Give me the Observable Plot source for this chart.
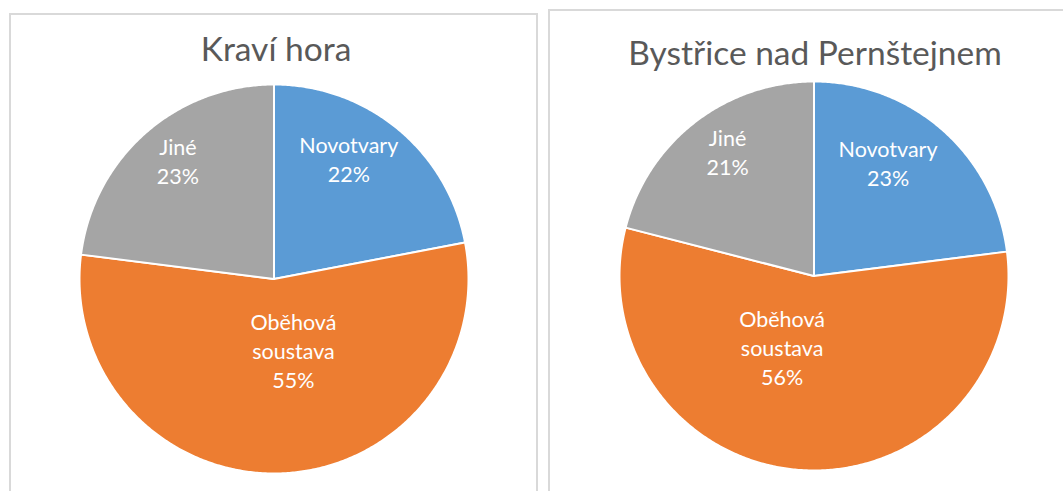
<!DOCTYPE html>
<html>
<head>
<meta charset="utf-8">
<script src="https://cdn.jsdelivr.net/npm/d3@7"></script>
<script src="https://cdn.jsdelivr.net/npm/@observablehq/plot@0.6"></script>
<style>
  html, body { margin: 0; padding: 0; background: #fff; }
  #root { position: relative; width: 1063px; height: 491px; overflow: hidden; font-family: Lato, "Open Sans", sans-serif; }
  .panel { position: absolute; border: 2px solid #d9d9d9; box-sizing: border-box; background: #fff; }
  .title { position: absolute; transform: translateX(-50%); white-space: nowrap; color: #595959; font-size: 33.5px; line-height: 1; }
  .pie { position: absolute; }
</style>
</head>
<body>
<div id="root"></div>
<script>
// ---- data ----
const categories = ["Novotvary", "Oběhová soustava", "Jiné"];
const labelText = ["Novotvary", "Oběhová\nsoustava", "Jiné"];
const kraviHora = [22, 55, 23];
const bystrice = [23, 56, 21];
const titles = ["Kraví hora", "Bystřice nad Pernštejnem"];
const colors = ["#5B9BD5", "#ED7D31", "#A5A5A5"];

// ---- layout ----
const layout = [
  { panel: {left: 9, top: 13, width: 529, height: 500}, title: {cx: 276, top: 32},
    pie: {left: 79, top: 84, size: 389},
    nudge: [[-12, -16], [17, -7], [-6, -17]] },
  { panel: {left: 548, top: 9, width: 530, height: 500}, title: {cx: 815, top: 36},
    pie: {left: 619, top: 81, size: 389},
    nudge: [[-16, -12], [-27, -7], [-3, -17]] }
];
const labelRadius = v => (v > 50 ? 0.4 : 0.7);

const root = document.getElementById("root");

function pieChart(values, L) {
  const total = d3.sum(values);
  const arcs = d3.pie().sort(null).value(d => d)(values); // angles clockwise from 12 o'clock
  const pts = [];
  arcs.forEach((a, i) => {
    const cat = categories[i];
    pts.push({cat, x: 0, y: 0});
    const n = Math.max(2, Math.ceil((a.endAngle - a.startAngle) / (Math.PI / 360)));
    for (let k = 0; k <= n; k++) {
      const t = a.startAngle + (a.endAngle - a.startAngle) * k / n;
      pts.push({cat, x: Math.sin(t), y: Math.cos(t)});
    }
  });
  const marks = [
    Plot.line(pts, {x: "x", y: "y", z: "cat", fill: "cat", stroke: "white", strokeWidth: 2, strokeLinejoin: "round", curve: "linear-closed"})
  ];
  arcs.forEach((a, i) => {
    const mid = (a.startAngle + a.endAngle) / 2;
    const r = labelRadius(values[i]);
    const pct = Math.round(values[i] / total * 100) + "%";
    marks.push(Plot.text([{x: r * Math.sin(mid), y: r * Math.cos(mid), t: labelText[i] + "\n" + pct}], {
      x: "x", y: "y", text: "t", fill: "white", fontSize: 21.5, lineHeight: 1.35,
      fontFamily: "Lato, 'Open Sans', sans-serif",
      dx: L.nudge[i][0], dy: L.nudge[i][1]
    }));
  });
  return Plot.plot({
    width: L.pie.size, height: L.pie.size,
    margin: 0,
    x: {domain: [-1, 1], axis: null},
    y: {domain: [-1, 1], axis: null},
    color: {domain: categories, range: colors},
    marks
  });
}

[kraviHora, bystrice].forEach((vals, j) => {
  const L = layout[j];
  const p = document.createElement("div");
  p.className = "panel";
  Object.assign(p.style, {left: L.panel.left + "px", top: L.panel.top + "px", width: L.panel.width + "px", height: L.panel.height + "px"});
  root.appendChild(p);
  const t = document.createElement("div");
  t.className = "title";
  t.textContent = titles[j];
  Object.assign(t.style, {left: L.title.cx + "px", top: L.title.top + "px"});
  root.appendChild(t);
  const svg = pieChart(vals, L);
  const w = document.createElement("div");
  w.className = "pie";
  Object.assign(w.style, {left: L.pie.left + "px", top: L.pie.top + "px"});
  w.appendChild(svg);
  root.appendChild(w);
});
</script>
</body>
</html>
